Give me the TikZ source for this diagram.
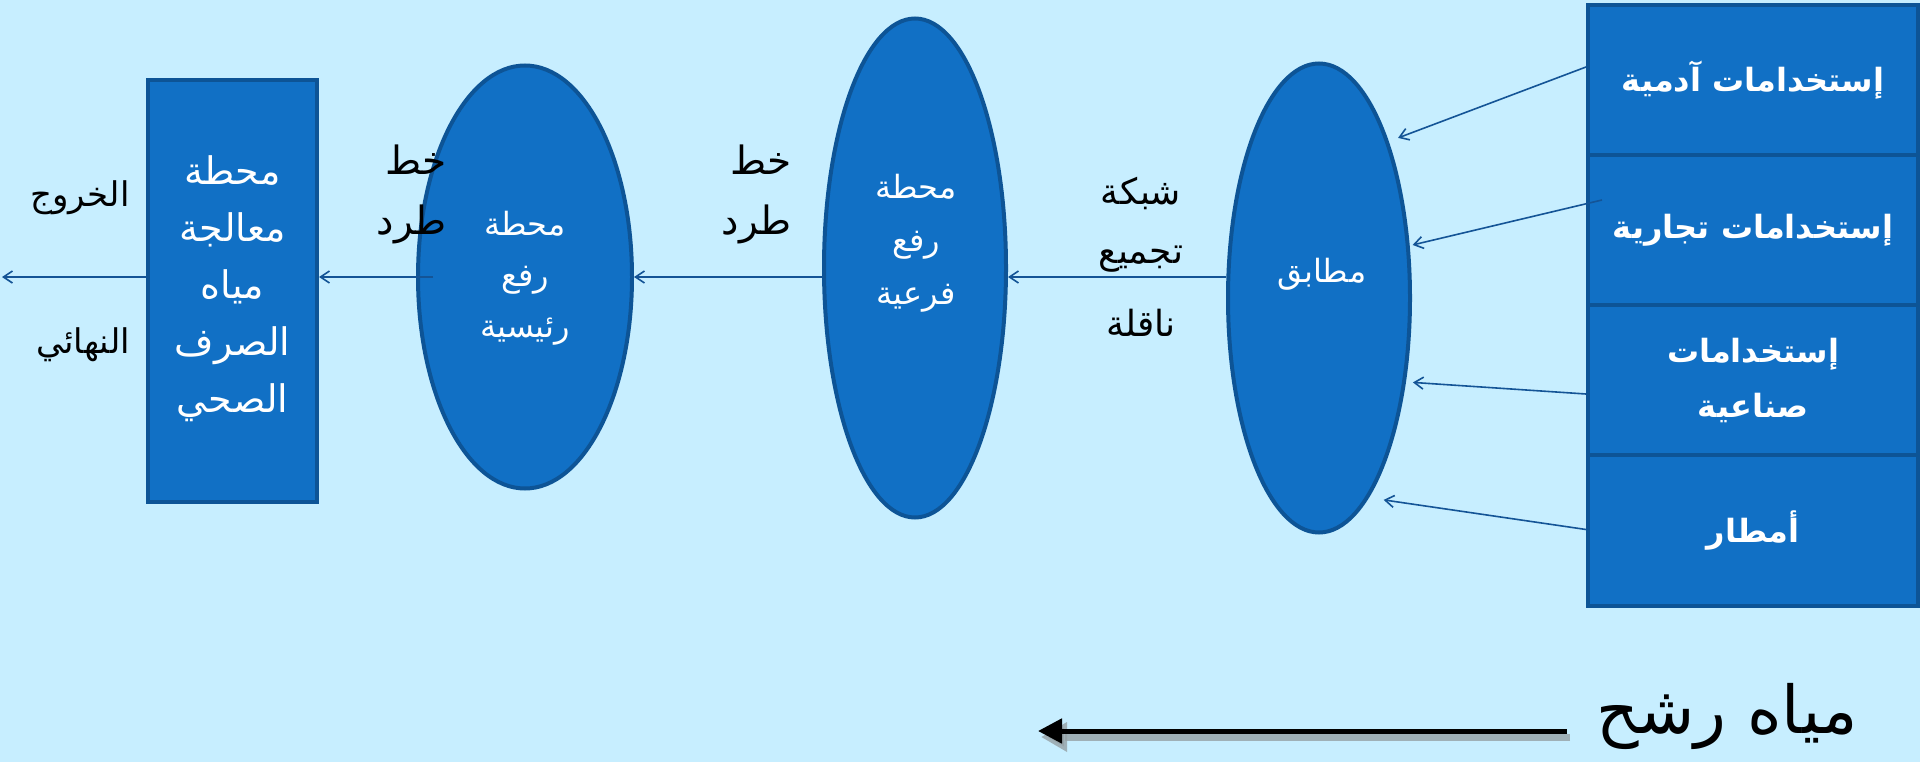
\documentclass[tikz,border=0pt]{standalone}
\usepackage{fontspec}
\usetikzlibrary{shapes.geometric,arrows.meta}
\newfontfamily\arabicfont[Script=Arabic]{DejaVu Sans}
\TeXXeTstate=1
\newcommand{\AR}[1]{\beginR #1\endR}
\definecolor{bgc}{RGB}{199,238,255}
\definecolor{fillc}{RGB}{17,112,197}
\definecolor{edgec}{RGB}{13,84,150}
\definecolor{linec}{RGB}{20,84,150}
\tikzset{
  boxsty/.style={rectangle, draw=edgec, fill=fillc, line width=4pt, inner sep=0pt},
  ellsty/.style={ellipse, draw=edgec, fill=fillc, line width=4pt, inner sep=0pt},
  wtxt/.style={text=white, align=center, inner sep=0pt},
  btxt/.style={text=black, align=center, inner sep=0pt},
  flow/.style={draw=linec, line width=1.6pt, -{Straight Barb[length=9pt,width=12pt,line width=1.6pt]}},
}
\begin{document}
\begin{tikzpicture}[x=1pt,y=-1pt]
\fill[bgc] (0,0) rectangle (1920,762);
\useasboundingbox (0,0) rectangle (1920,762);

% treatment plant
\node[boxsty, minimum width=169pt, minimum height=422pt] (tb) at (232.5,291) {};
\node[wtxt, font=\arabicfont\fontsize{38}{57}\selectfont] (tbt) at (232.5,289)
  {\AR{محطة}\\\AR{معالجة}\\\AR{مياه}\\\AR{الصرف}\\\AR{الصحي}};

% ellipses
\node[ellsty, minimum width=214pt, minimum height=423pt] (e1) at (525,277) {};
\node[ellsty, minimum width=182pt, minimum height=499pt] (e2) at (915,268) {};
\node[ellsty, minimum width=182pt, minimum height=469pt] (e3) at (1319,298) {};

\node[wtxt, font=\arabicfont\fontsize{32}{51}\selectfont] (e1t) at (525,278)
  {\AR{محطة}\\\AR{رفع}\\\AR{رئيسية}};
\node[wtxt, font=\arabicfont\fontsize{32}{53}\selectfont] (e2t) at (916,243)
  {\AR{محطة}\\\AR{رفع}\\\AR{فرعية}};
\node[wtxt, font=\arabicfont\fontsize{32}{34}\selectfont] (e3t) at (1322,274) {\AR{مطابق}};

% source boxes
\node[boxsty, minimum width=330pt, minimum height=150pt] (b1) at (1753,80) {};
\node[boxsty, minimum width=330pt, minimum height=150pt] (b2) at (1753,230) {};
\node[boxsty, minimum width=330pt, minimum height=150pt] (b3) at (1753,380) {};
\node[boxsty, minimum width=330pt, minimum height=151pt] (b4) at (1753,530.5) {};
\begin{scope}[every node/.style={wtxt, font=\arabicfont\bfseries\fontsize{32}{55}\selectfont}]
\node (b1t) at (b1) {\AR{إستخدامات آدمية}};
\node (b2t) at (b2) {\AR{إستخدامات تجارية}};
\node (b3t) at (b3) {\AR{إستخدامات}\\\AR{صناعية}};
\node (b4t) at (b4) {\AR{أمطار}};
\end{scope}

% labels
\begin{scope}[every node/.style={btxt, font=\arabicfont\fontsize{34}{36}\selectfont}]
\node (out1) at (80,198) {\AR{الخروج}};
\node (out2) at (83,345) {\AR{النهائي}};
\end{scope}
\node[btxt, anchor=east, align=right, font=\arabicfont\fontsize{39}{60}\selectfont] (l1) at (447,194) {\AR{خط}\\\AR{طرد}};
\node[btxt, anchor=east, align=right, font=\arabicfont\fontsize{39}{60}\selectfont] (l2) at (792,194) {\AR{خط}\\\AR{طرد}};
\node[btxt, font=\arabicfont\fontsize{36}{59}\selectfont] (net) at (1141,257)
  {\AR{شبكة}\\\AR{تجميع}\\[14pt]\AR{ناقلة}};

% flow connectors
\coordinate (exit) at (2,277);
\draw[flow] (tb.west |- exit) -- (exit);
\draw[flow] ([xshift=17pt]e1.west) -- (tb.east |- e1.west);
\draw[flow] (e2.west |- e1.east) -- (e1.east);
\draw[flow] (e3.west |- e1.east) -- (e2.east |- e1.east);

\draw[flow, shorten >=10pt] ([yshift=13pt]b1.west) -- (e3.66.8);
\draw[flow, shorten >=3pt] ([xshift=16pt,yshift=30pt]b2.west) -- (e3.30.3);
\draw[flow, shorten >=7pt] ([yshift=-14pt]b3.west) -- (e3.-44.3);
\draw[flow, shorten >=15pt] ([yshift=1pt]b4.west) -- (e3.-76.8);

% seepage
\node[btxt, font=\arabicfont\fontsize{66}{68}\selectfont] (seep) at (1727,716) {\AR{مياه رشح}};
\coordinate (ss) at (1567,731);
\coordinate (se) at (1038,731);
\draw[line width=7pt, gray!70!bgc, opacity=0.8, -{Triangle[length=26pt,width=28pt]}] ([shift={(3pt,-6pt)}]ss) -- ([shift={(3pt,-6pt)}]se);
\draw[line width=5pt, black, -{Triangle[length=24pt,width=24pt]}] (ss) -- (se);
\end{tikzpicture}
\end{document}
